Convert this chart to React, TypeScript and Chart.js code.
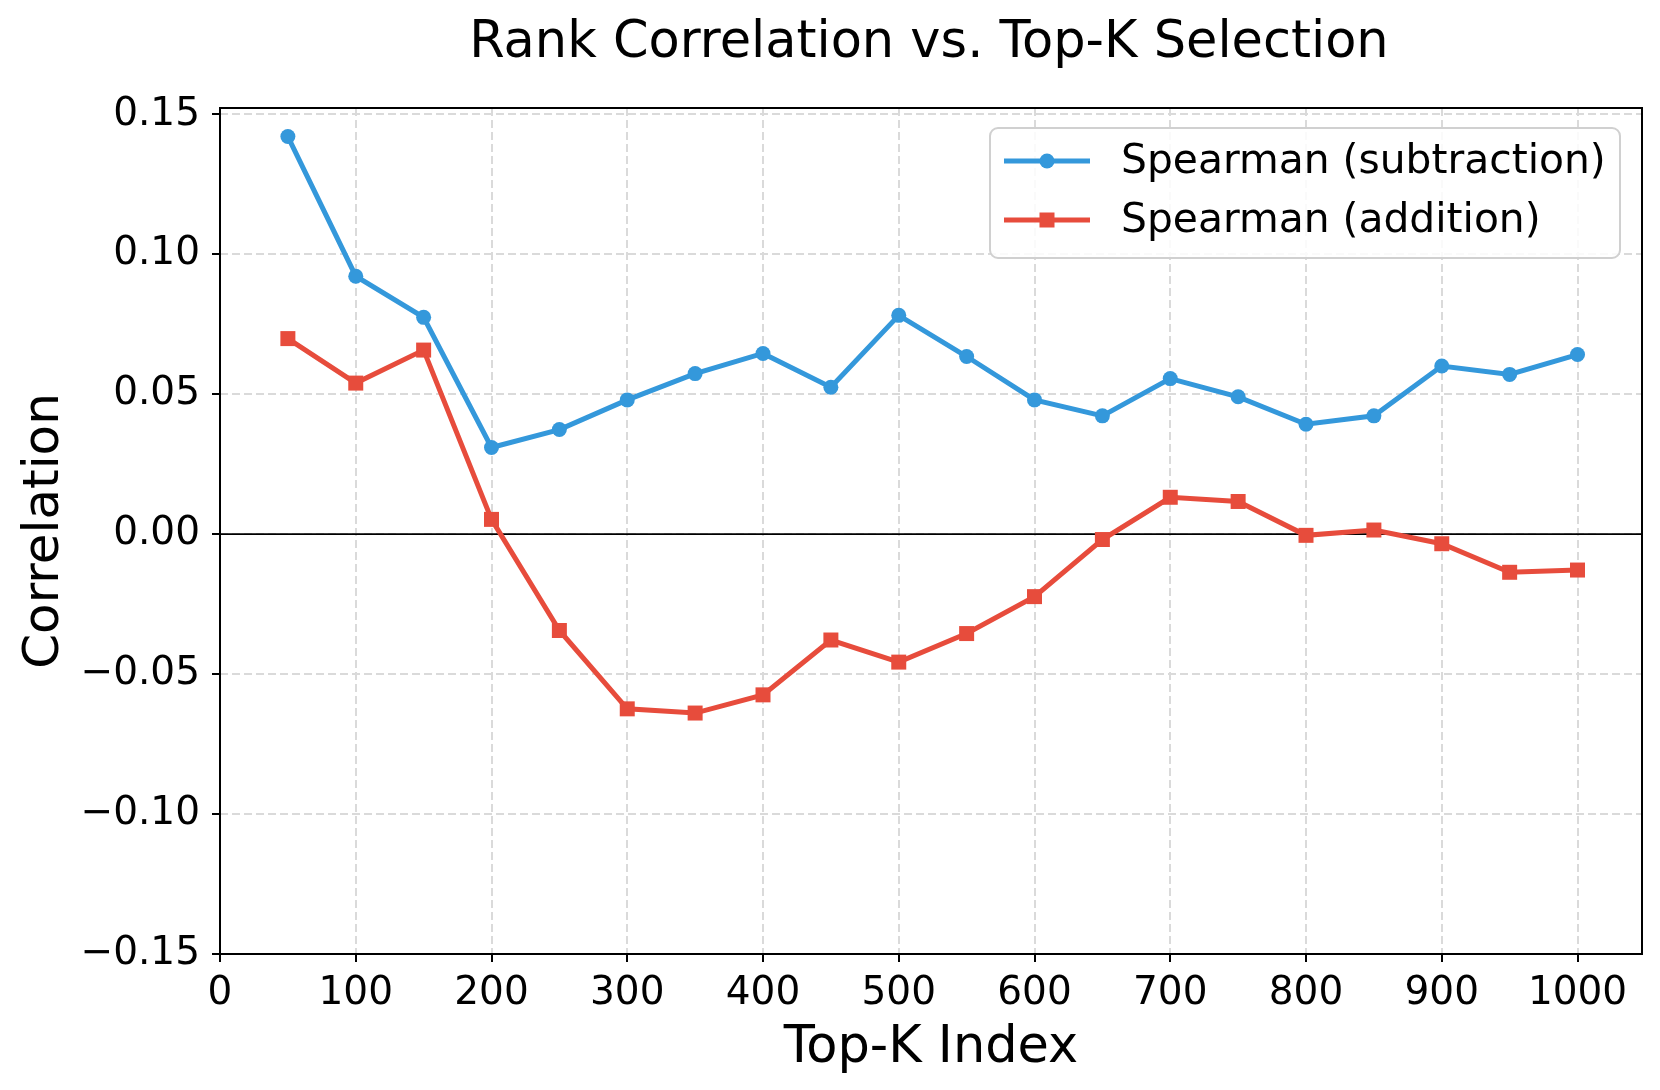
import React, { useEffect, useRef } from "react";
import { Chart, registerables } from "chart.js";

Chart.register(...registerables);

const topK = [50, 100, 150, 200, 250, 300, 350, 400, 450, 500, 550, 600, 650, 700, 750, 800, 850, 900, 950, 1000];
const subtraction = [0.1421, 0.0922, 0.0775, 0.031, 0.0374, 0.048, 0.0574, 0.0646, 0.0525, 0.0782, 0.0635, 0.048, 0.0423, 0.0556, 0.0491, 0.0393, 0.0423, 0.0601, 0.0571, 0.0642];
const addition = [0.0699, 0.054, 0.0658, 0.0053, -0.0344, -0.0624, -0.0639, -0.0574, -0.0378, -0.0457, -0.0355, -0.0223, -0.0019, 0.0132, 0.0117, -0.0004, 0.0015, -0.0034, -0.0136, -0.0128];
const xTicks = [0, 100, 200, 300, 400, 500, 600, 700, 800, 900, 1000];
const yTicks = [-0.15, -0.1, -0.05, 0, 0.05, 0.1, 0.15];
const seriesNames = ["Spearman (subtraction)", "Spearman (addition)"];
const TITLE = "Rank Correlation vs. Top-K Selection";
const X_LABEL = "Top-K Index";
const Y_LABEL = "Correlation";

const BLUE = "#3498db";
const RED = "#e74c3c";
const FONT = "'DejaVu Sans', sans-serif";

const decorPlugin = {
  id: "decor",
  beforeDatasetsDraw(chart: any) {
    const { ctx, chartArea, scales } = chart;
    const y0 = scales.y.getPixelForValue(0);
    ctx.save();
    ctx.strokeStyle = "#000";
    ctx.lineWidth = 1.8;
    ctx.beginPath();
    ctx.moveTo(chartArea.left, y0);
    ctx.lineTo(chartArea.right, y0);
    ctx.stroke();
    ctx.restore();
  },
  afterDraw(chart: any) {
    const { ctx, chartArea } = chart;
    ctx.save();
    // frame
    ctx.strokeStyle = "#000";
    ctx.lineWidth = 2;
    ctx.strokeRect(chartArea.left, chartArea.top, chartArea.right - chartArea.left, chartArea.bottom - chartArea.top);

    const cx = (chartArea.left + chartArea.right) / 2;
    const cy = (chartArea.top + chartArea.bottom) / 2;
    ctx.fillStyle = "#000";
    ctx.textAlign = "center";
    ctx.textBaseline = "alphabetic";
    ctx.font = `51px ${FONT}`;
    ctx.fillText(TITLE, cx - 2, 57);
    ctx.font = `51px ${FONT}`;
    ctx.fillText(X_LABEL, cx, 1062);
    ctx.font = `50px ${FONT}`;
    ctx.save();
    ctx.translate(58, cy);
    ctx.rotate(-Math.PI / 2);
    ctx.fillText(Y_LABEL, 0, 0);
    ctx.restore();

    // legend
    const bx = 990, by = 128, bw = 630, bh = 130, r = 8;
    ctx.beginPath();
    ctx.moveTo(bx + r, by);
    ctx.arcTo(bx + bw, by, bx + bw, by + bh, r);
    ctx.arcTo(bx + bw, by + bh, bx, by + bh, r);
    ctx.arcTo(bx, by + bh, bx, by, r);
    ctx.arcTo(bx, by, bx + bw, by, r);
    ctx.closePath();
    ctx.fillStyle = "rgba(255,255,255,0.85)";
    ctx.fill();
    ctx.strokeStyle = "#d0d0d0";
    ctx.lineWidth = 2;
    ctx.stroke();

    const rows = [161, 220];
    chart.data.datasets.forEach((ds: any, i: number) => {
      const ry = rows[i];
      ctx.strokeStyle = ds.borderColor;
      ctx.lineWidth = 5;
      ctx.beginPath();
      ctx.moveTo(1004, ry);
      ctx.lineTo(1090, ry);
      ctx.stroke();
      ctx.fillStyle = ds.borderColor;
      if (ds.pointStyle === "rect") {
        ctx.fillRect(1047 - 7.5, ry - 7.5, 15, 15);
      } else {
        ctx.beginPath();
        ctx.arc(1047, ry, 7.5, 0, Math.PI * 2);
        ctx.fill();
      }
      ctx.fillStyle = "#000";
      ctx.textAlign = "left";
      ctx.textBaseline = "middle";
      ctx.font = `40.8px ${FONT}`;
      ctx.fillText(ds.label, 1121, ry + 1);
    });
    ctx.restore();
  },
};

export default function App() {
  const ref = useRef<HTMLCanvasElement>(null);
  useEffect(() => {
    document.body.style.margin = "0";
    const canvas = ref.current!;
    const chart = new Chart(canvas, {
      type: "line",
      data: {
        datasets: [
          {
            label: seriesNames[0],
            data: topK.map((k, i) => ({ x: k, y: subtraction[i] })),
            borderColor: BLUE,
            backgroundColor: BLUE,
            borderWidth: 5,
            pointStyle: "circle",
            pointRadius: 7.5,
            pointBorderWidth: 0,
            tension: 0,
          },
          {
            label: seriesNames[1],
            data: topK.map((k, i) => ({ x: k, y: addition[i] })),
            borderColor: RED,
            backgroundColor: RED,
            borderWidth: 5,
            pointStyle: "rect",
            pointRadius: 10.6,
            pointBorderWidth: 0,
            tension: 0,
          },
        ],
      },
      options: {
        animation: false,
        responsive: false,
        maintainAspectRatio: false,
        layout: { padding: { left: 0, right: 18, top: 108, bottom: 0 } },
        plugins: {
          legend: { display: false },
          title: { display: false },
          tooltip: { enabled: false },
        },
        scales: {
          x: {
            type: "linear",
            min: 0,
            max: 1047.5,
            afterBuildTicks: (s: any) => {
              s.ticks = xTicks.map((v) => ({ value: v }));
            },
            afterFit: (s: any) => {
              s.height = 136;
            },
            grid: {
              color: "#dadada",
              lineWidth: 2,
              drawTicks: true,
              tickLength: 8,
              tickColor: "#000",
              tickWidth: 2,
              tickBorderDash: [],
            },
            border: { display: false, dash: [8, 4] },
            ticks: {
              color: "#000",
              font: { family: FONT, size: 39 },
              padding: 8,
              maxRotation: 0,
              autoSkip: false,
              callback: (v: any) => String(v),
            },
          },
          y: {
            type: "linear",
            min: -0.15,
            max: 0.1523,
            afterBuildTicks: (s: any) => {
              s.ticks = yTicks.map((v) => ({ value: v }));
            },
            afterFit: (s: any) => {
              s.width = 220;
            },
            grid: {
              color: "#dadada",
              lineWidth: 2,
              drawTicks: true,
              tickLength: 8,
              tickColor: "#000",
              tickWidth: 2,
              tickBorderDash: [],
            },
            border: { display: false, dash: [8, 4] },
            ticks: {
              color: "#000",
              font: { family: FONT, size: 39 },
              padding: 12,
              autoSkip: false,
              callback: (v: any) => {
                const n = Number(v);
                const s = Math.abs(n).toFixed(2);
                return n < -1e-9 ? "\u2212" + s : s;
              },
            },
          },
        },
      },
      plugins: [decorPlugin],
    });
    return () => chart.destroy();
  }, []);
  return <canvas ref={ref} width={1660} height={1090} style={{ display: "block" }} />;
}
